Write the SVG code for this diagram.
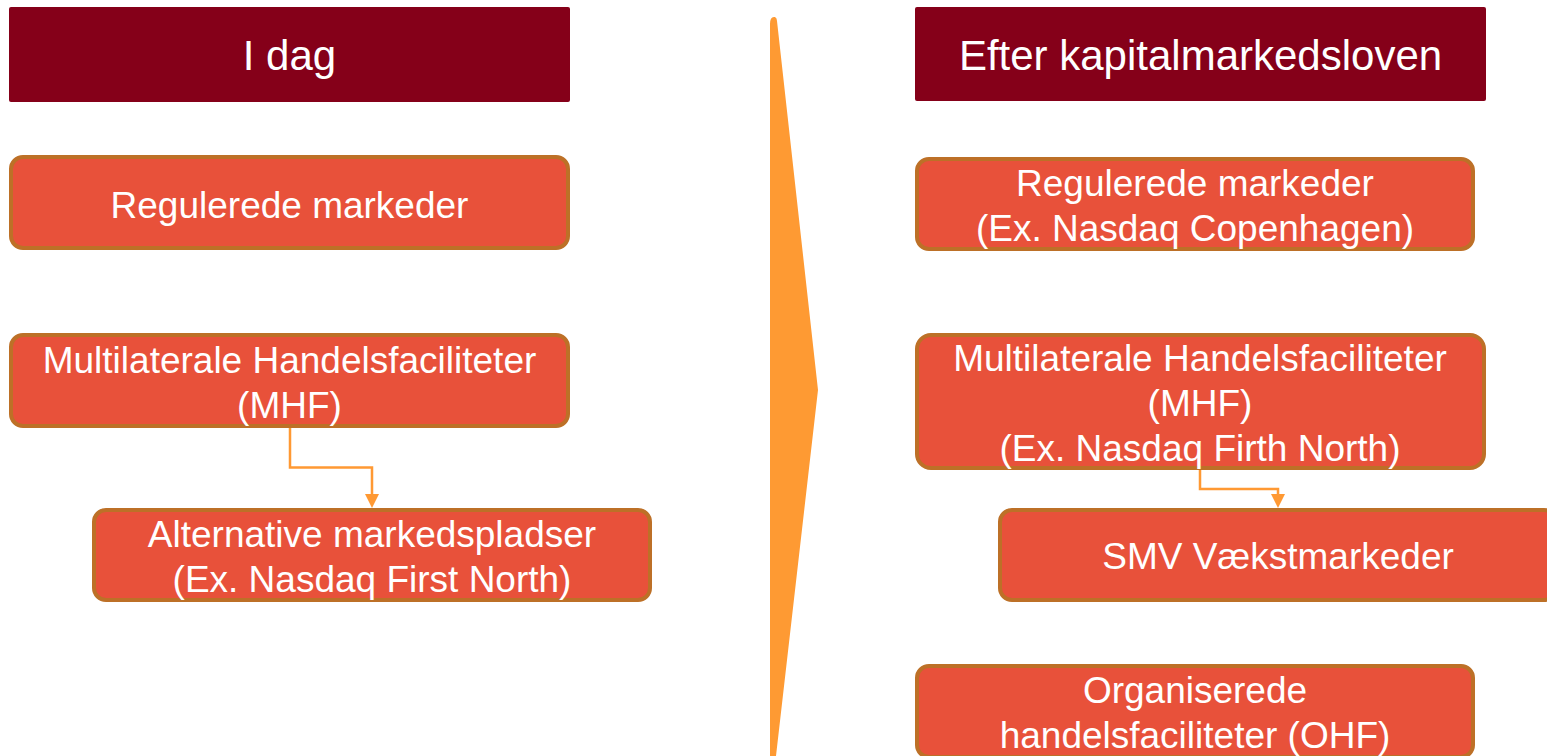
<svg xmlns="http://www.w3.org/2000/svg" width="1547" height="756" viewBox="0 0 1547 756">
<style>
.hdr{fill:#850019}
.box{fill:#E8513A;stroke:#BD7027;stroke-width:4}
.t{font-family:"Liberation Sans",Arial,sans-serif;fill:#ffffff;text-anchor:middle}
.h{font-size:42px}
.b{font-size:37px}
.con{fill:none;stroke:#FF9933;stroke-width:2.5}
.ah{fill:#FF9933}
</style>
<rect width="1547" height="756" fill="#ffffff"/>
<g id="chevron">
<path d="M770,756 L770,24 Q770,16 775,17 Q777,18 777,21 L818,390 L776,756 Z" fill="#FE9A33"/>
</g>
<g id="hdr-left">
<rect class="hdr" x="9" y="7" width="561" height="95" rx="2"/>
<text class="t h" x="289.5" y="70">I dag</text>
</g>
<g id="hdr-right">
<rect class="hdr" x="915" y="7" width="571" height="94" rx="2"/>
<text class="t h" x="1200.5" y="70">Efter kapitalmarkedsloven</text>
</g>
<g id="l-reg">
<rect class="box" x="11" y="157" width="557" height="91" rx="12"/>
<text class="t b" x="289.5" y="218">Regulerede markeder</text>
</g>
<g id="l-mhf">
<rect class="box" x="11" y="335" width="557" height="91" rx="12"/>
<text class="t b" x="289.5" y="373">Multilaterale Handelsfaciliteter</text>
<text class="t b" x="289.5" y="418">(MHF)</text>
</g>
<g id="l-alt">
<rect class="box" x="94" y="510" width="556" height="90" rx="12"/>
<text class="t b" x="372" y="547">Alternative markedspladser</text>
<text class="t b" x="372" y="592">(Ex. Nasdaq First North)</text>
</g>
<g id="r-reg">
<rect class="box" x="917" y="159" width="556" height="90" rx="12"/>
<text class="t b" x="1195" y="196">Regulerede markeder</text>
<text class="t b" x="1195" y="241">(Ex. Nasdaq Copenhagen)</text>
</g>
<g id="r-mhf">
<rect class="box" x="917" y="335" width="567" height="133" rx="14"/>
<text class="t b" x="1200" y="371">Multilaterale Handelsfaciliteter</text>
<text class="t b" x="1200" y="416">(MHF)</text>
<text class="t b" x="1200" y="461">(Ex. Nasdaq Firth North)</text>
</g>
<g id="r-smv">
<rect class="box" x="1000" y="510" width="556" height="90" rx="12"/>
<text class="t b" x="1278" y="569">SMV Vækstmarkeder</text>
</g>
<g id="r-ohf">
<rect class="box" x="917" y="666" width="556" height="91" rx="12"/>
<text class="t b" x="1195" y="703">Organiserede</text>
<text class="t b" x="1195" y="748">handelsfaciliteter (OHF)</text>
</g>
<g id="connectors">
<path class="con" d="M290,428 V467.5 H372 V496"/>
<path class="ah" d="M365,494 H379 L372,508 Z"/>
<path class="con" d="M1200,470 V489 H1278 V496"/>
<path class="ah" d="M1271,494 H1285 L1278,508 Z"/>
</g>
</svg>
